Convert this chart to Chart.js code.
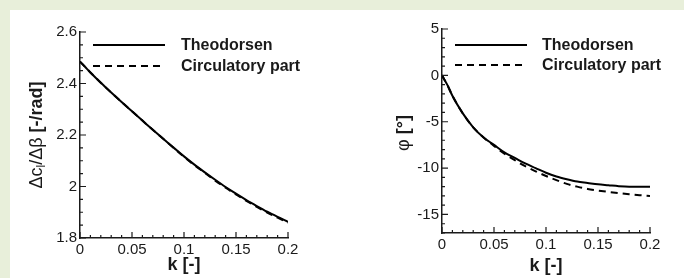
<!DOCTYPE html>
<html>
<head>
<meta charset="utf-8">
<script src="https://cdn.jsdelivr.net/npm/chart.js@4"></script>
<style>
  html, body { margin: 0; padding: 0; }
  body { width: 684px; height: 278px; background: #e8efda; position: relative; overflow: hidden; }
  #panel { position: absolute; left: 10px; top: 10px; width: 674px; height: 268px; background: #fff; }
  .box { position: absolute; top: 0; height: 268px; }
  #leftBox { left: 0; width: 332px; }
  #rightBox { left: 332px; width: 342px; }
</style>
</head>
<body>
<div id="panel">
  <div class="box" id="leftBox"><canvas id="liftChart"></canvas></div>
  <div class="box" id="rightBox"><canvas id="phaseChart"></canvas></div>
</div>
<script>
// Reduced frequency k [-]
const k = [0, 0.005, 0.01, 0.02, 0.03, 0.04, 0.05, 0.06, 0.07, 0.08, 0.09, 0.1,
           0.11, 0.12, 0.13, 0.14, 0.15, 0.16, 0.17, 0.18, 0.19, 0.2];

// Lift gain dcl/dbeta [-/rad]
const liftTheodorsen  = [2.485, 2.464, 2.443, 2.403, 2.365, 2.328, 2.292, 2.256, 2.220, 2.185, 2.151, 2.117,
                         2.085, 2.055, 2.026, 1.998, 1.972, 1.947, 1.924, 1.902, 1.882, 1.863];
const liftCirculatory = [2.485, 2.464, 2.443, 2.403, 2.365, 2.328, 2.292, 2.256, 2.220, 2.185, 2.150, 2.115,
                         2.083, 2.053, 2.023, 1.995, 1.969, 1.944, 1.921, 1.899, 1.879, 1.860];

// Phase phi [deg]
const phaseTheodorsen  = [0, -1.0, -2.2, -4.1, -5.6, -6.7, -7.5, -8.3, -8.9, -9.5, -10.0, -10.5,
                          -10.9, -11.2, -11.45, -11.6, -11.75, -11.85, -11.95, -12.0, -12.0, -12.0];
const phaseCirculatory = [0, -1.0, -2.2, -4.1, -5.6, -6.7, -7.6, -8.45, -9.15, -9.8, -10.35, -10.85,
                          -11.3, -11.7, -12.0, -12.25, -12.42, -12.57, -12.7, -12.82, -12.92, -13.0];

const seriesNames = ['Theodorsen', 'Circulatory part'];

// Tick labels
const kTicks = [0, 0.05, 0.1, 0.15, 0.2];
const liftTicks = [1.8, 2, 2.2, 2.4, 2.6];
const phaseTicks = [-15, -10, -5, 0, 5];

const FONT = "'Liberation Sans', Arial, Helvetica, sans-serif";
const INK = '#1a1a1a';

const pts = (ys) => k.map((x, i) => ({x: x, y: ys[i]}));

// Inward major/minor ticks, legend inside the plot and mixed-font y title
const decor = {
  id: 'decor',
  afterDraw(chart, args, o) {
    const {ctx, chartArea: a, scales: {x, y}} = chart;
    ctx.save();
    ctx.strokeStyle = INK;
    ctx.lineWidth = 1.2;
    ctx.beginPath();
    const minor = (scale, step, len, horiz) => {
      const n = Math.round((scale.max - scale.min) / step);
      for (let i = 0; i <= n; i++) {
        const p = scale.getPixelForValue(scale.min + i * step);
        if (horiz) { ctx.moveTo(p, a.bottom); ctx.lineTo(p, a.bottom - len); }
        else { ctx.moveTo(a.left, p); ctx.lineTo(a.left + len, p); }
      }
    };
    minor(x, o.xMinor, 3, true);
    minor(y, o.yMinor, 3, false);
    x.ticks.forEach(t => { const p = x.getPixelForValue(t.value); ctx.moveTo(p, a.bottom); ctx.lineTo(p, a.bottom - 6); });
    y.ticks.forEach(t => { const p = y.getPixelForValue(t.value); ctx.moveTo(a.left, p); ctx.lineTo(a.left + 6, p); });
    ctx.stroke();

    // legend
    chart.data.datasets.forEach((ds, i) => {
      const ly = a.top + o.legendY[i];
      ctx.strokeStyle = ds.borderColor;
      ctx.lineWidth = ds.borderWidth;
      ctx.setLineDash(ds.borderDash || []);
      ctx.beginPath();
      ctx.moveTo(a.left + 13, ly);
      ctx.lineTo(a.left + 85, ly);
      ctx.stroke();
      ctx.setLineDash([]);
      ctx.fillStyle = INK;
      ctx.font = 'bold 16px ' + FONT;
      ctx.textBaseline = 'middle';
      ctx.textAlign = 'left';
      ctx.fillText(ds.label, a.left + o.legendText, ly + 1);
    });

    // y title, rotated
    ctx.translate(o.titleX, o.titleY);
    ctx.rotate(-Math.PI / 2);
    ctx.textBaseline = 'middle';
    ctx.textAlign = 'left';
    const fontOf = r => (r.bold ? 'bold ' : '') + (r.sub ? 12 : 18) + 'px ' + FONT;
    let total = 0;
    o.title.forEach(r => { ctx.font = fontOf(r); total += ctx.measureText(r.t).width; });
    let cx = -total / 2;
    o.title.forEach(r => {
      ctx.font = fontOf(r);
      ctx.fillText(r.t, cx, r.sub ? 5 : 0);
      cx += ctx.measureText(r.t).width;
    });
    ctx.restore();
  }
};

function makeChart(el, sets, yMin, yMax, yTicks, opt) {
  return new Chart(document.getElementById(el), {
    type: 'line',
    data: {
      datasets: [{
        label: seriesNames[0],
        data: pts(sets[0]),
        borderColor: '#000',
        borderWidth: 2,
        pointRadius: 0,
        cubicInterpolationMode: 'monotone'
      }, {
        label: seriesNames[1],
        data: pts(sets[1]),
        borderColor: '#000',
        borderWidth: 2,
        borderDash: [7, 5],
        pointRadius: 0,
        cubicInterpolationMode: 'monotone'
      }]
    },
    options: {
      responsive: true,
      maintainAspectRatio: false,
      animation: false,
      events: [],
      layout: { padding: opt.padding },
      plugins: {
        legend: { display: false },
        tooltip: { enabled: false },
        decor: opt.decor
      },
      scales: {
        x: {
          type: 'linear',
          min: 0,
          max: 0.2,
          afterBuildTicks: s => { s.ticks = kTicks.map(v => ({value: v})); },
          afterFit: s => { s.height = opt.xHeight; },
          grid: { display: false, drawTicks: false },
          border: { display: true, color: INK, width: 1.5 },
          ticks: {
            padding: 3,
            color: INK,
            font: { family: FONT, size: 15 },
            maxRotation: 0,
            callback: v => String(+v.toFixed(3))
          },
          title: {
            display: true,
            text: 'k [-]',
            color: INK,
            font: { family: FONT, size: 18, weight: 'bold', lineHeight: 1 },
            padding: { top: 0, bottom: opt.xTitlePad }
          }
        },
        y: {
          type: 'linear',
          min: yMin,
          max: yMax,
          afterBuildTicks: s => { s.ticks = yTicks.map(v => ({value: v})); },
          afterFit: s => { s.width = opt.yWidth; },
          grid: { display: false, drawTicks: false },
          border: { display: true, color: INK, width: 1.5 },
          ticks: {
            padding: 3,
            color: INK,
            font: { family: FONT, size: 15 },
            callback: v => String(+v.toFixed(3))
          }
        }
      }
    },
    plugins: [decor]
  });
}

makeChart('liftChart', [liftTheodorsen, liftCirculatory], 1.8, 2.6, liftTicks, {
  padding: { left: 0, right: 54, top: 22, bottom: 0 },
  xHeight: 40,
  yWidth: 70,
  xTitlePad: 4,
  decor: {
    xMinor: 0.01, yMinor: 0.05,
    legendY: [13, 34], legendText: 101,
    titleX: 27, titleY: 125,
    title: [{t: 'Δc'}, {t: 'l', sub: true}, {t: '/Δβ '}, {t: '[-/rad]', bold: true}]
  }
});

makeChart('phaseChart', [phaseTheodorsen, phaseCirculatory], -17, 5, phaseTicks, {
  padding: { left: 0, right: 34, top: 19, bottom: 0 },
  xHeight: 45,
  yWidth: 100,
  xTitlePad: 3,
  decor: {
    xMinor: 0.01, yMinor: 1,
    legendY: [16, 36], legendText: 100,
    titleX: 62, titleY: 123,
    title: [{t: 'φ '}, {t: '[°]', bold: true}]
  }
});
</script>
</body>
</html>
